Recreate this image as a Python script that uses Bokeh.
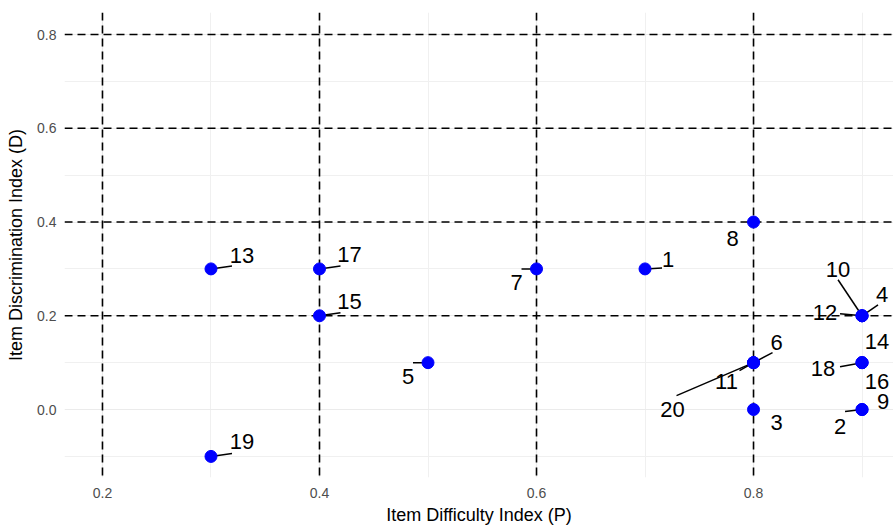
from bokeh.plotting import figure
from bokeh.models import Range1d, FixedTicker, PrintfTickFormatter, Span, ColumnDataSource
from bokeh.embed import file_html
from bokeh.resources import INLINE

# ---- data ----
items = ["1", "2", "3", "4", "5", "6", "7", "8", "9", "10",
         "11", "12", "13", "14", "15", "16", "17", "18", "19", "20"]
difficulty_p = [0.7, 0.9, 0.8, 0.9, 0.5, 0.8, 0.6, 0.8, 0.9, 0.9,
                0.8, 0.9, 0.3, 0.9, 0.4, 0.9, 0.4, 0.9, 0.3, 0.8]
discrimination_d = [0.3, 0.0, 0.0, 0.2, 0.1, 0.1, 0.3, 0.4, 0.0, 0.2,
                    0.1, 0.2, 0.3, 0.1, 0.2, 0.1, 0.3, 0.1, -0.1, 0.1]
ref_p = [0.2, 0.4, 0.6, 0.8]
ref_d = [0.2, 0.4, 0.6, 0.8]
x_ticks = [0.2, 0.4, 0.6, 0.8]
y_ticks = [0.0, 0.2, 0.4, 0.6, 0.8]

# ---- label placement (screen pixel offsets, repel-like) ----
# item: (label dx, label dy, segment dx, segment dy or None)
label_offsets = {
    "1": (23, -9, 17, -1), "2": (-22, 17, -17, 2), "3": (23, 13, None, None),
    "4": (20, -21, 16, -11), "5": (-20, 14, -15, 0), "6": (23, -20, 19, -10),
    "7": (-20, 14, -15, 0), "8": (-21, 16, None, None), "9": (21, -8, None, None),
    "10": (-24, -46, -24, -36), "11": (-27, 19, -14, 8), "12": (-37, -3, -22, -2),
    "13": (31, -13, 21, -3), "14": (15, -21, None, None), "15": (30, -14, 21, -3),
    "16": (15, 19, None, None), "17": (30, -14, 21, -3), "18": (-39, 6, -22, 4),
    "19": (31, -15, 21, -3), "20": (-81, 47, -77, 33),
}

FONT = "Liberation Sans"
x0, x1 = 0.165, 0.929
y0, y1 = -0.145, 0.847
FW, FH = 829, 465

p = figure(frame_width=FW, frame_height=FH,
           x_range=Range1d(x0, x1), y_range=Range1d(y0, y1),
           output_backend="svg", toolbar_location=None,
           min_border_left=64, min_border_top=12, min_border_right=0, min_border_bottom=40,
           background_fill_color="white", border_fill_color="white")
p.outline_line_color = None

p.xaxis.ticker = FixedTicker(ticks=x_ticks, minor_ticks=[0.3, 0.5, 0.7, 0.9])
p.yaxis.ticker = FixedTicker(ticks=y_ticks, minor_ticks=[-0.1, 0.1, 0.3, 0.5, 0.7])
for ax in (p.xaxis, p.yaxis):
    ax.formatter = PrintfTickFormatter(format="%.1f")
    ax.axis_line_color = None
    ax.major_tick_line_color = None
    ax.minor_tick_line_color = None
    ax.major_tick_out = 0
    ax.minor_tick_out = 0
    ax.major_tick_in = 0
    ax.minor_tick_in = 0
    ax.major_label_text_color = "#4d4d4d"
    ax.major_label_text_font = FONT
    ax.major_label_text_font_size = "14px"
    ax.axis_label_text_font = FONT
    ax.axis_label_text_font_size = "18px"
    ax.axis_label_text_font_style = "normal"
    ax.axis_label_text_color = "#000000"
p.xaxis.axis_label = "Item Difficulty Index (P)"
p.yaxis.axis_label = "Item Discrimination Index (D)"
p.xaxis.major_label_standoff = 10
p.yaxis.major_label_standoff = 8
p.xaxis.axis_label_standoff = 4
p.yaxis.axis_label_standoff = 8

for g in (p.xgrid, p.ygrid):
    g.grid_line_color = "#ebebeb"
    g.grid_line_width = 1.2
    g.minor_grid_line_color = "#f0f0f0"
    g.minor_grid_line_width = 1

for v in ref_p:
    p.add_layout(Span(location=v, dimension="height", line_color="black",
                      line_width=1.6, line_dash="8 5", level="underlay"))
for v in ref_d:
    p.add_layout(Span(location=v, dimension="width", line_color="black",
                      line_width=1.6, line_dash="8 5", level="underlay"))

sx = FW / (x1 - x0)
sy = FH / (y1 - y0)

lx_off, ly_off = [], []
seg_x0, seg_y0, seg_x1, seg_y1 = [], [], [], []
for it, xp, yd in zip(items, difficulty_p, discrimination_d):
    ldx, ldy, sdx, sdy = label_offsets[it]
    lx_off.append(ldx)
    ly_off.append(ldy)
    if sdx is not None:
        seg_x0.append(xp)
        seg_y0.append(yd)
        seg_x1.append(xp + sdx / sx)
        seg_y1.append(yd - sdy / sy)

p.segment(x0=seg_x0, y0=seg_y0, x1=seg_x1, y1=seg_y1, line_color="black", line_width=1.5)

src = ColumnDataSource(dict(x=difficulty_p, y=discrimination_d, lab=items,
                            xo=lx_off, yo=ly_off))
p.scatter("x", "y", source=src, size=12, fill_color="#0000ff", line_color="#0000ff")
p.text("x", "y", text="lab", source=src, x_offset="xo", y_offset="yo",
       text_align="center", text_baseline="middle", text_font_size="22px",
       text_font={"value": FONT}, text_color="black")

open("out.html", "w").write(file_html(p, INLINE))
